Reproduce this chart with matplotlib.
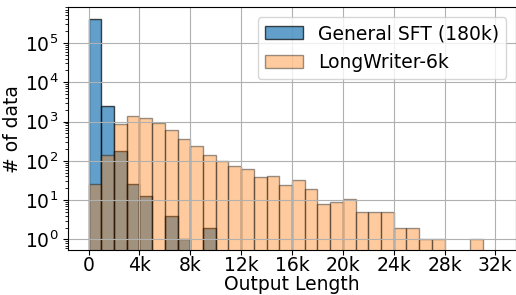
import numpy as np
import matplotlib
matplotlib.use("Agg")
import matplotlib.pyplot as plt

# histogram counts per 1k-token bin
bin_edges = np.arange(0, 33000, 1000)
general_sft = [400000, 2450, 177, 26, 13, 0, 4, 1, 0, 2, 0, 0, 0, 0, 0, 0,
               0, 0, 0, 0, 0, 0, 0, 0, 0, 0, 0, 0, 0, 0, 0, 0]
longwriter = [26, 137, 870, 1400, 1200, 930, 600, 370, 233, 137, 100, 72, 61, 38, 40, 24,
              33, 19, 8, 9, 11, 5, 5, 5, 2, 2, 1, 1, 0, 0, 1, 0]
tick_vals = [0, 4000, 8000, 12000, 16000, 20000, 24000, 28000, 32000]
tick_labels = ["0", "4k", "8k", "12k", "16k", "20k", "24k", "28k", "32k"]

centers = (bin_edges[:-1] + bin_edges[1:]) / 2

fig = plt.figure(figsize=(5.16, 2.95), dpi=100)
ax = fig.add_axes([0.1324, 0.1525, 0.867, 0.8225])

ax.hist(centers, bins=bin_edges, weights=general_sft, color='tab:blue', alpha=0.7,
        edgecolor='black', log=True, label="General SFT (180k)")
ax.hist(centers, bins=bin_edges, weights=longwriter, color='tab:orange', alpha=0.4,
        edgecolor='black', log=True, label="LongWriter-6k")

ax.set_yscale('log')
ax.set_ylim(0.54, 8e5)
ax.set_xlim(-1600, 33600)
ax.set_xticks(tick_vals)
ax.set_xticklabels(tick_labels)
ax.tick_params(axis='both', labelsize=13.5)
ax.tick_params(axis='x', pad=1)
ax.set_xlabel("Output Length", fontsize=13.5, labelpad=0)
ax.set_ylabel("# of data", fontsize=13.5, labelpad=2)
ax.grid(True)
ax.legend(loc='upper right', fontsize=13.5)

plt.savefig("out.png", dpi=100)
